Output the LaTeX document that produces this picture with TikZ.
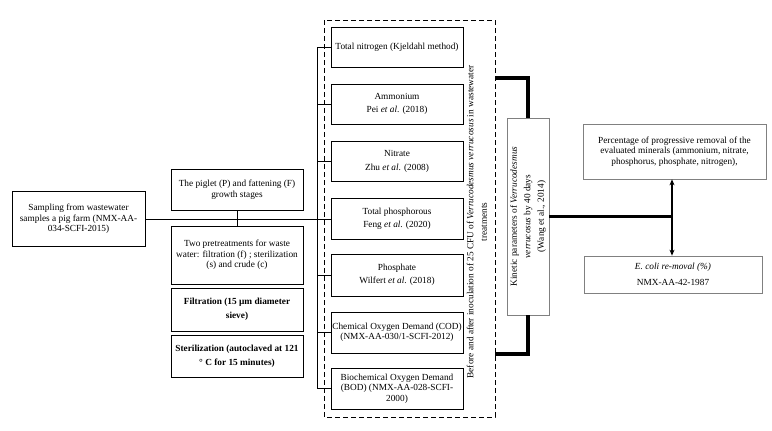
\documentclass[tikz,border=0pt]{standalone}
\usepackage{fontspec}
\setmainfont{Liberation Serif}
\usetikzlibrary{arrows.meta}
\newcommand{\dfont}{\fontsize{9.3}{10.5}\selectfont}
\tikzset{box/.style={draw,line width=0.8pt,align=center,inner sep=0pt,minimum width=132pt}}
\tikzset{greybox/.style={draw=gray,line width=0.7pt,align=center,inner sep=0pt}}

\begin{document}
\begin{tikzpicture}[x=1pt,y=-1pt,every node/.style={font=\dfont},heavy/.style={line width=3.5pt}]
    \useasboundingbox (0,0) rectangle (772,431);
    % left column
    \node[box,minimum width=133pt,minimum height=55pt] (samp) at (78.5,219) {Sampling from wastewater\\samples a pig farm (NMX-AA-\\034-SCFI-2015)};
    \node[box,minimum height=41pt] (piglet) at (237,189.5) {The piglet (P) and fattening (F)\\growth stages};
    \node[box,minimum height=58pt] (pretr) at (237,255) {Two pretreatments for waste\\water: filtration (f) ; sterilization\\(s) and crude (c)};
    \node[box,minimum height=43pt,font={\fontsize{9.3}{14}\selectfont\bfseries}] (filt) at (237,309.5) {Filtration (15 µm diameter\\sieve)};
    \node[box,minimum height=42pt,font={\fontsize{9.3}{14}\selectfont\bfseries}] (steril) at (237,356) {Sterilization (autoclaved at 121\\° C for 15 minutes)};
    % analyses
    \draw[dashed,dash pattern=on 5pt off 3pt,line width=0.6pt] (324,20) rectangle (495,417);
    \node[box,minimum height=40pt] (tn) at (397,47) {Total nitrogen (Kjeldahl method)};
    \node[box,minimum height=40pt] (amm) at (397,104) {Ammonium\\[3pt]Pei \textit{et al}. (2018)};
    \node[box,minimum height=40pt] (nit) at (397,161.5) {Nitrate\\[3pt]Zhu \textit{et al}. (2008)};
    \node[box,minimum height=41pt] (tp) at (397,219) {Total phosphorous\\[3pt]Feng \textit{et al}. (2020)};
    \node[box,minimum height=42pt] (phos) at (397,275) {Phosphate\\[3pt]Wilfert \textit{et al}. (2018)};
    \node[box,minimum height=41pt] (cod) at (397,332.5) {Chemical Oxygen Demand (COD)\\(NMX-AA-030/1-SCFI-2012)};
    \node[box,minimum height=41pt] (bod) at (397,388.5) {Biochemical Oxygen Demand\\(BOD) (NMX-AA-028-SCFI-\\2000)};
    \node[rotate=90,align=center,font={\fontsize{9.3}{13.5}\selectfont}] (inoc) at (477,222) {Before and after inoculation of 25 CFU of \textit{Verrucodesmus verrucosus} in wastewater\\treatments};
    \coordinate (brk) at (317,0);
    \draw[line width=0.8pt] (tn.west -| brk) -- (bod.west -| brk);
    \foreach \n in {tn,amm,nit,tp,phos,cod,bod}
        \draw[line width=0.8pt] (\n.west) -- (\n.west -| brk);
    \draw[line width=0.8pt] (samp.east) -- (tp.west);
    \draw[line width=0.8pt] (piglet.south) -- (pretr.north);
    % kinetics and results
    \node[greybox,rotate=90,minimum width=197pt,minimum height=42pt,font={\fontsize{9.3}{13.5}\selectfont}] (kin) at (528,216.5) {Kinetic parameters of \textit{Verrucodesmus}\\\textit{verrucosus} by 40 days\\(Wang et al., 2014)};
    \coordinate (dtop) at (495,78);
    \coordinate (dbot) at (495,354);
    \draw[heavy] (dtop) -| (kin.east);
    \draw[heavy] (dbot) -| (kin.west);
    \node[greybox,minimum width=183pt,minimum height=55pt] (perc) at (674.5,151.5) {Percentage of progressive removal of the\\evaluated minerals (ammonium, nitrate,\\phosphorus, phosphate, nitrogen),};
    \node[greybox,minimum width=178pt,minimum height=37pt] (ecoli) at (673,274.5) {\textit{E. coli re-moval (\%)}\\[5pt]NMX-AA-42-1987};
    \coordinate (jn) at (672,216.5);
    \draw[line width=2.8pt] (kin.south) -- (jn);
    \draw[line width=1.6pt,{Stealth[length=6pt,width=5pt]}-{Stealth[length=6pt,width=5pt]}] (jn |- perc.south) -- (jn |- ecoli.north);
\end{tikzpicture}
\end{document}
